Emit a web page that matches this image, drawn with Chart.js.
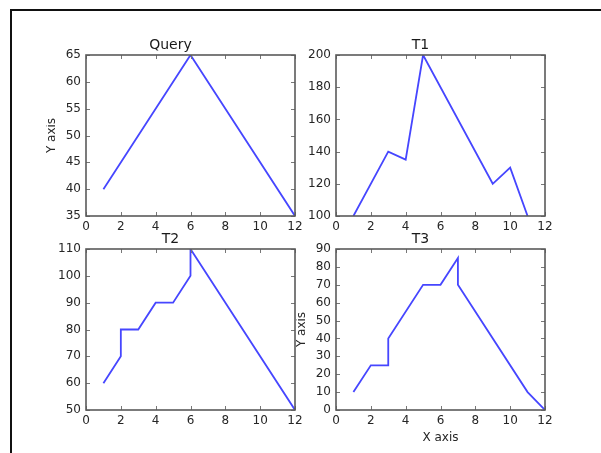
<!DOCTYPE html>
<html><head><meta charset="utf-8">
<script src="https://cdn.jsdelivr.net/npm/chart.js@4"></script>
<style>
html,body{margin:0;padding:0;background:#fff;width:601px;height:453px;overflow:hidden;position:relative;}
#frame{position:absolute;left:10px;top:9px;width:620px;height:470px;border-left:2px solid #111;border-top:2px solid #111;}
canvas{position:absolute;}
</style></head><body>
<div id="frame"></div>
<canvas id="c0" width="264" height="214" style="left:46px;top:38px"></canvas>
<canvas id="c1" width="264" height="214" style="left:296px;top:38px"></canvas>
<canvas id="c2" width="264" height="214" style="left:46px;top:232px"></canvas>
<canvas id="c3" width="264" height="214" style="left:296px;top:232px"></canvas>
<script>
// ---- data ----
const xTickValues = [0, 2, 4, 6, 8, 10, 12];

const queryX = [1, 6, 12];
const queryY = [40, 65, 35];
const queryTicks = [35, 40, 45, 50, 55, 60, 65];

const t1X = [1, 3, 4, 5, 9, 10, 11];
const t1Y = [100, 140, 135, 200, 120, 130, 100];
const t1Ticks = [100, 120, 140, 160, 180, 200];

const t2X = [1, 2, 2, 3, 4, 5, 6, 6, 12];
const t2Y = [60, 70, 80, 80, 90, 90, 100, 110, 50];
const t2Ticks = [50, 60, 70, 80, 90, 100, 110];

const t3X = [1, 2, 3, 3, 5, 6, 7, 7, 11, 12];
const t3Y = [10, 25, 25, 40, 70, 70, 85, 70, 10, 0];
const t3Ticks = [0, 10, 20, 30, 40, 50, 60, 70, 80, 90];

const panelTitles = ['Query', 'T1', 'T2', 'T3'];
const yAxisTitles = ['Y axis', '', '', 'Y axis'];
const xAxisTitles = ['', '', '', 'X axis'];

// ---- drawing ----
const FONT = 'DejaVu Sans';
const TEXT = '#262626';

const frameTicks = {
  id: 'frameTicks',
  afterDatasetsDraw(chart) {
    const {ctx, chartArea: a, scales: {x, y}} = chart;
    ctx.save();
    ctx.strokeStyle = '#777';
    ctx.lineWidth = 1;
    ctx.beginPath();
    x.ticks.forEach(t => {
      const p = Math.round(x.getPixelForValue(t.value)) + 0.5;
      ctx.moveTo(p, a.bottom); ctx.lineTo(p, a.bottom - 4);
      ctx.moveTo(p, a.top); ctx.lineTo(p, a.top + 4);
    });
    y.ticks.forEach(t => {
      const p = Math.round(y.getPixelForValue(t.value)) + 0.5;
      ctx.moveTo(a.left, p); ctx.lineTo(a.left + 4, p);
      ctx.moveTo(a.right, p); ctx.lineTo(a.right - 4, p);
    });
    ctx.stroke();
    ctx.strokeStyle = '#5a5a5a';
    ctx.lineWidth = 1.6;
    ctx.strokeRect(a.left, a.top, a.right - a.left, a.bottom - a.top);
    ctx.restore();
  }
};

function makeChart(id, xs, ys, yTicks, idx) {
  const pts = xs.map((v, i) => ({x: v, y: ys[i]}));
  return new Chart(document.getElementById(id), {
    type: 'line',
    data: {
      datasets: [{
        data: pts,
        borderColor: 'rgb(70,70,255)',
        borderWidth: 1.8,
        pointRadius: 0,
        fill: false,
        tension: 0
      }]
    },
    options: {
      responsive: false,
      animation: false,
      devicePixelRatio: 1,
      layout: {padding: {left: 0, right: 15, top: 0, bottom: 0}},
      plugins: {
        legend: {display: false},
        tooltip: {enabled: false},
        title: {
          display: true,
          text: panelTitles[idx],
          color: '#1a1a1a',
          font: {family: FONT, size: 14, weight: 'normal', lineHeight: 1},
          padding: {top: 0, bottom: 3}
        }
      },
      scales: {
        x: {
          type: 'linear',
          min: xTickValues[0],
          max: xTickValues[xTickValues.length - 1],
          afterBuildTicks: s => { s.ticks = xTickValues.map(v => ({value: v})); },
          afterFit: s => { s.height = 36; },
          grid: {display: false, drawTicks: false},
          border: {display: false},
          ticks: {color: TEXT, font: {family: FONT, size: 12}, padding: 4, maxRotation: 0, autoSkip: false},
          title: {
            display: xAxisTitles[idx] !== '',
            text: xAxisTitles[idx],
            color: TEXT,
            font: {family: FONT, size: 12, lineHeight: 1},
            padding: {top: 0, bottom: 2}
          }
        },
        y: {
          type: 'linear',
          min: yTicks[0],
          max: yTicks[yTicks.length - 1],
          afterBuildTicks: s => { s.ticks = yTicks.map(v => ({value: v})); },
          afterFit: s => { s.width = 40; },
          grid: {display: false, drawTicks: false},
          border: {display: false},
          ticks: {color: TEXT, font: {family: FONT, size: 12}, padding: 5, autoSkip: false},
          title: {
            display: yAxisTitles[idx] !== '',
            text: yAxisTitles[idx],
            color: TEXT,
            font: {family: FONT, size: 12, lineHeight: 1},
            padding: {top: 0, bottom: 0}
          }
        }
      }
    },
    plugins: [frameTicks]
  });
}

makeChart('c0', queryX, queryY, queryTicks, 0);
makeChart('c1', t1X, t1Y, t1Ticks, 1);
makeChart('c2', t2X, t2Y, t2Ticks, 2);
makeChart('c3', t3X, t3Y, t3Ticks, 3);
</script>
</body></html>
